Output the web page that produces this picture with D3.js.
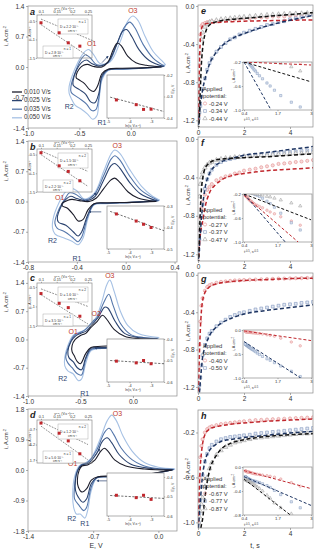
<!DOCTYPE html>
<html>
<head>
<meta charset="utf-8">
<script src="https://cdn.jsdelivr.net/npm/d3@7"></script>
<style>
body { margin: 0; background: #fff; }
svg { display: block; font-family: "Liberation Sans", Arial, sans-serif; }
</style>
</head>
<body>
<div id="chart"></div>
<script>
// ---------- cyclic voltammograms (E, V ; i, A/cm2), one loop per scan rate ----------
const scanRates = ['0.010 V/s', '0.025 V/s', '0.035 V/s', '0.050 V/s'];

const cvA010 = [[0.30,0.0],[0.1,-0.02],[-0.1,-0.03],[-0.22,-0.05],[-0.28,-0.15],[-0.32,-0.42],[-0.36,-0.56],[-0.4,-0.52],[-0.45,-0.38],[-0.5,-0.3],[-0.53,-0.25],[-0.53,-0.18],[-0.5,-0.04],[-0.46,0.04],[-0.42,0.06],[-0.36,0.01],[-0.28,0.0],[-0.22,0.12],[-0.17,0.4],[-0.13,0.55],[-0.09,0.48],[-0.03,0.25],[0.05,0.1],[0.15,0.04],[0.30,0.0]];
const cvA025 = [[0.32,0.01],[0.1,-0.03],[-0.1,-0.04],[-0.22,-0.06],[-0.28,-0.2],[-0.31,-0.6],[-0.35,-0.82],[-0.39,-0.8],[-0.44,-0.62],[-0.5,-0.52],[-0.56,-0.42],[-0.56,-0.3],[-0.53,-0.08],[-0.48,0.1],[-0.43,0.16],[-0.38,0.08],[-0.31,0.02],[-0.22,0.12],[-0.14,0.5],[-0.08,0.82],[-0.04,0.86],[0.01,0.7],[0.08,0.4],[0.18,0.15],[0.32,0.01]];
const cvA035 = [[0.33,0.02],[0.1,-0.03],[-0.1,-0.05],[-0.22,-0.07],[-0.28,-0.25],[-0.31,-0.7],[-0.34,-0.98],[-0.38,-1.0],[-0.43,-0.85],[-0.5,-0.72],[-0.58,-0.58],[-0.58,-0.42],[-0.54,-0.12],[-0.49,0.15],[-0.44,0.28],[-0.39,0.2],[-0.33,0.05],[-0.22,0.1],[-0.13,0.55],[-0.06,0.92],[-0.01,1.03],[0.04,0.9],[0.12,0.52],[0.22,0.2],[0.33,0.02]];
const cvA050 = [[0.34,0.05],[0.1,-0.03],[-0.1,-0.05],[-0.22,-0.08],[-0.28,-0.3],[-0.31,-0.8],[-0.33,-1.12],[-0.37,-1.2],[-0.42,-1.08],[-0.48,-0.97],[-0.54,-0.88],[-0.58,-0.72],[-0.6,-0.6],[-0.6,-0.45],[-0.57,-0.2],[-0.52,0.08],[-0.46,0.32],[-0.41,0.4],[-0.36,0.28],[-0.3,0.08],[-0.2,0.12],[-0.1,0.6],[-0.03,1.05],[0.02,1.17],[0.07,1.07],[0.14,0.7],[0.22,0.35],[0.3,0.15],[0.34,0.05]];

const cvB010 = [[0.25,0.0],[0.05,-0.02],[-0.15,-0.03],[-0.26,-0.05],[-0.31,-0.2],[-0.35,-0.42],[-0.39,-0.45],[-0.43,-0.3],[-0.48,-0.15],[-0.52,-0.1],[-0.52,-0.04],[-0.48,0.02],[-0.44,0.05],[-0.38,0.02],[-0.3,0.0],[-0.24,0.08],[-0.18,0.3],[-0.12,0.5],[-0.09,0.54],[-0.05,0.45],[0.02,0.22],[0.1,0.08],[0.25,0.0]];
const cvB025 = [[0.26,0.01],[0.05,-0.02],[-0.15,-0.04],[-0.26,-0.06],[-0.31,-0.3],[-0.36,-0.7],[-0.39,-0.8],[-0.43,-0.7],[-0.49,-0.55],[-0.55,-0.48],[-0.56,-0.38],[-0.53,-0.12],[-0.49,0.05],[-0.45,0.12],[-0.4,0.07],[-0.32,0.02],[-0.25,0.12],[-0.18,0.5],[-0.12,0.83],[-0.09,0.88],[-0.05,0.78],[0.03,0.45],[0.12,0.18],[0.26,0.01]];
const cvB035 = [[0.27,0.02],[0.05,-0.02],[-0.15,-0.04],[-0.26,-0.07],[-0.31,-0.35],[-0.36,-0.82],[-0.39,-0.93],[-0.44,-0.82],[-0.5,-0.7],[-0.56,-0.62],[-0.58,-0.5],[-0.55,-0.2],[-0.5,0.05],[-0.46,0.2],[-0.41,0.17],[-0.34,0.04],[-0.26,0.15],[-0.18,0.6],[-0.12,0.98],[-0.09,1.06],[-0.05,0.97],[0.03,0.6],[0.13,0.25],[0.27,0.02]];
const cvB050 = [[0.28,0.03],[0.05,-0.02],[-0.15,-0.05],[-0.26,-0.08],[-0.31,-0.4],[-0.35,-0.85],[-0.39,-1.0],[-0.44,-0.92],[-0.5,-0.85],[-0.55,-0.8],[-0.58,-0.75],[-0.6,-0.6],[-0.59,-0.35],[-0.55,-0.05],[-0.5,0.2],[-0.45,0.31],[-0.4,0.25],[-0.34,0.06],[-0.26,0.18],[-0.18,0.7],[-0.12,1.1],[-0.09,1.19],[-0.05,1.12],[0.03,0.75],[0.13,0.35],[0.22,0.12],[0.28,0.03]];

const cvC010 = [[0.22,0.0],[0.1,-0.12],[-0.1,-0.15],[-0.3,-0.17],[-0.4,-0.2],[-0.45,-0.35],[-0.5,-0.6],[-0.53,-0.55],[-0.56,-0.4],[-0.58,-0.3],[-0.58,-0.15],[-0.55,0.0],[-0.5,0.1],[-0.45,0.15],[-0.4,0.3],[-0.34,0.45],[-0.29,0.6],[-0.25,0.5],[-0.18,0.25],[-0.08,0.08],[0.05,0.02],[0.22,0.0]];
const cvC025 = [[0.23,0.02],[0.1,-0.15],[-0.1,-0.18],[-0.3,-0.2],[-0.4,-0.22],[-0.45,-0.45],[-0.49,-0.75],[-0.53,-0.7],[-0.57,-0.55],[-0.61,-0.45],[-0.62,-0.3],[-0.59,-0.05],[-0.55,0.08],[-0.5,0.15],[-0.44,0.22],[-0.38,0.4],[-0.33,0.55],[-0.27,0.8],[-0.24,0.78],[-0.17,0.45],[-0.08,0.15],[0.05,0.05],[0.23,0.02]];
const cvC035 = [[0.24,0.03],[0.1,-0.17],[-0.1,-0.2],[-0.3,-0.22],[-0.4,-0.25],[-0.45,-0.5],[-0.49,-0.88],[-0.53,-0.85],[-0.58,-0.7],[-0.62,-0.58],[-0.64,-0.45],[-0.61,-0.15],[-0.56,0.1],[-0.52,0.15],[-0.45,0.25],[-0.38,0.45],[-0.34,0.55],[-0.28,0.9],[-0.23,1.12],[-0.19,0.85],[-0.12,0.4],[-0.02,0.12],[0.1,0.05],[0.24,0.03]];
const cvC050 = [[0.25,0.05],[0.1,-0.18],[-0.1,-0.2],[-0.3,-0.22],[-0.4,-0.28],[-0.45,-0.6],[-0.49,-0.98],[-0.52,-1.02],[-0.57,-0.85],[-0.62,-0.78],[-0.65,-0.65],[-0.65,-0.45],[-0.62,-0.15],[-0.57,0.1],[-0.53,0.16],[-0.47,0.22],[-0.4,0.4],[-0.35,0.55],[-0.3,0.9],[-0.25,1.35],[-0.22,1.47],[-0.18,1.2],[-0.12,0.7],[-0.05,0.35],[0.05,0.15],[0.25,0.05]];

const cvD010 = [[0.15,0.0],[-0.2,-0.15],[-0.5,-0.18],[-0.65,-0.2],[-0.72,-0.3],[-0.77,-0.55],[-0.82,-0.65],[-0.86,-0.5],[-0.87,-0.3],[-0.85,0.0],[-0.82,0.12],[-0.76,0.15],[-0.68,0.3],[-0.62,0.55],[-0.58,0.64],[-0.54,0.55],[-0.47,0.3],[-0.35,0.12],[-0.15,0.03],[0.15,0.0]];
const cvD025 = [[0.16,0.01],[-0.2,-0.17],[-0.5,-0.2],[-0.66,-0.22],[-0.72,-0.4],[-0.77,-0.85],[-0.81,-0.95],[-0.86,-0.8],[-0.89,-0.6],[-0.89,-0.3],[-0.86,0.02],[-0.82,0.15],[-0.75,0.2],[-0.66,0.5],[-0.6,0.85],[-0.55,0.95],[-0.5,0.8],[-0.42,0.45],[-0.3,0.18],[-0.1,0.05],[0.16,0.01]];
const cvD035 = [[0.17,0.02],[-0.2,-0.18],[-0.5,-0.2],[-0.66,-0.23],[-0.72,-0.5],[-0.77,-1.1],[-0.8,-1.2],[-0.85,-1.05],[-0.9,-0.85],[-0.9,-0.5],[-0.88,-0.1],[-0.83,0.15],[-0.76,0.22],[-0.66,0.6],[-0.58,1.1],[-0.53,1.23],[-0.48,1.05],[-0.4,0.65],[-0.28,0.3],[-0.1,0.08],[0.17,0.02]];
const cvD050 = [[0.18,0.03],[-0.2,-0.19],[-0.5,-0.21],[-0.66,-0.24],[-0.72,-0.6],[-0.76,-1.2],[-0.79,-1.42],[-0.84,-1.3],[-0.88,-1.3],[-0.91,-1.1],[-0.92,-0.7],[-0.9,-0.2],[-0.85,0.12],[-0.79,0.2],[-0.72,0.35],[-0.62,0.95],[-0.55,1.45],[-0.5,1.62],[-0.45,1.45],[-0.38,1.0],[-0.28,0.55],[-0.15,0.22],[0.0,0.08],[0.18,0.03]];

// peak current vs sqrt(scan rate) insets
const sqrtV = [0.1, 0.158, 0.187, 0.224];
const ipA = [-0.55, -0.82, -1.09, -1.18];
const ipB = [-0.45, -0.8, -0.95, -1.2];
const ipC = [-0.67, -0.92, -1.03, -1.25];
const ipD = [-0.5, -0.83, -1.08, -1.5];
const ipFitA = [[[0.1,-0.45],[0.27,-1.05]], [[0.1,-0.6],[0.25,-1.45]]];
const ipFitB = [[[0.1,-0.4],[0.25,-0.95]], [[0.1,-0.5],[0.25,-1.35]]];
const ipFitC = [[[0.1,-0.55],[0.25,-1.0]], [[0.1,-0.7],[0.25,-1.45]]];
const ipFitD = [[[0.1,-0.45],[0.25,-1.2]], [[0.1,-0.6],[0.25,-1.7]]];
const dA = [['n = 1', 'D = 2.2·10⁻⁵'], ['n = 1', 'D = 2.8·10⁻⁵']];
const dB = [['n = 2', 'D = 1.5·10⁻⁵'], ['n = 2', 'D = 2.2·10⁻⁵']];
const dC = [['n = 2', 'D = 1.6·10⁻⁵'], ['n = 1', 'D = 3.5·10⁻⁵']];
const dD = [['n = 2', 'D = 1.2·10⁻⁵'], ['n = 1', 'D = 5.6·10⁻⁵']];

// peak potential vs ln(scan rate) insets
const lnV = [-4.61, -3.69, -3.35, -3.0];
const epA = [-0.316, -0.338, -0.36, -0.359];
const epB = [-0.337, -0.37, -0.385, -0.40];
const epC = [-0.503, -0.511, -0.50, -0.515];
const epD = [-0.494, -0.506, -0.494, -0.515];
const epFitA = [[-4.9,-0.303],[-2.4,-0.37]];
const epFitB = [[-4.9,-0.325],[-2.4,-0.415]];
const epFitC = [[-4.9,-0.5],[-2.4,-0.515]];
const epFitD = [[-4.9,-0.495],[-2.4,-0.51]];

// ---------- chronoamperometry (t, s ; i, A/cm2) ----------
const tMarks = [0.03,0.06,0.1,0.15,0.2,0.3,0.4,0.5,0.6,0.8,1.0,1.2,1.4,1.6,1.8,2.0,2.25,2.5,2.75,3.0,3.25,3.5,3.75,4.0,4.25,4.5,4.75,5.0];
const tFit = [0.02,0.05,0.1,0.15,0.2,0.3,0.5,0.75,1,1.5,2,3,4,5];

const ePot = ['-0.24 V', '-0.34 V', '-0.44 V'];
const eRed = [-1.15,-0.62,-0.3,-0.21,-0.19,-0.18,-0.17,-0.17,-0.16,-0.16,-0.15,-0.15,-0.14,-0.14,-0.13,-0.13,-0.13,-0.12,-0.12,-0.12,-0.11,-0.11,-0.11,-0.10,-0.10,-0.10,-0.10,-0.09];
const eBlue = [-1.18,-1.12,-1.05,-0.95,-0.87,-0.76,-0.67,-0.6,-0.55,-0.48,-0.43,-0.39,-0.35,-0.33,-0.3,-0.28,-0.26,-0.24,-0.22,-0.2,-0.19,-0.17,-0.16,-0.14,-0.13,-0.12,-0.1,-0.09];
const eGrey = [-1.1,-0.75,-0.5,-0.35,-0.28,-0.22,-0.19,-0.17,-0.16,-0.15,-0.14,-0.135,-0.13,-0.125,-0.12,-0.115,-0.11,-0.105,-0.1,-0.095,-0.09,-0.088,-0.085,-0.082,-0.08,-0.078,-0.075,-0.07];
const eRedFit = [-1.2,-0.75,-0.35,-0.24,-0.21,-0.19,-0.18,-0.175,-0.17,-0.165,-0.16,-0.155,-0.15,-0.146];
const eBlueFit = [-1.25,-1.15,-1.05,-0.96,-0.88,-0.77,-0.61,-0.5,-0.43,-0.34,-0.29,-0.21,-0.15,-0.1];
const eBlackFit = [-1.3,-1.2,-0.88,-0.6,-0.45,-0.3,-0.2,-0.17,-0.155,-0.14,-0.13,-0.11,-0.09,-0.07];
const eInsetFit = [[[0.4,-0.2],[3,-0.25]], [[0.4,-0.2],[1.45,-1.0]], [[0.4,-0.2],[3,-0.53]]];

const fPot = ['-0.27 V', '-0.37 V', '-0.47 V'];
const fRed = [-1.1,-0.95,-0.82,-0.72,-0.65,-0.58,-0.53,-0.5,-0.47,-0.43,-0.41,-0.39,-0.38,-0.36,-0.35,-0.33,-0.32,-0.31,-0.295,-0.285,-0.275,-0.26,-0.255,-0.248,-0.24,-0.235,-0.228,-0.22];
const fBlue = [-1.15,-1.05,-0.95,-0.8,-0.68,-0.52,-0.42,-0.36,-0.32,-0.27,-0.24,-0.22,-0.21,-0.2,-0.19,-0.18,-0.17,-0.165,-0.16,-0.155,-0.15,-0.145,-0.14,-0.135,-0.13,-0.125,-0.12,-0.115];
const fGrey = [-0.9,-0.6,-0.47,-0.4,-0.35,-0.3,-0.27,-0.25,-0.24,-0.22,-0.21,-0.2,-0.2,-0.19,-0.19,-0.18,-0.18,-0.175,-0.17,-0.17,-0.165,-0.16,-0.16,-0.155,-0.15,-0.15,-0.145,-0.14];
const fRedFit = [-1.3,-1.15,-1.0,-0.92,-0.86,-0.72,-0.56,-0.48,-0.43,-0.38,-0.36,-0.33,-0.315,-0.3];
const fBlueFit = [-1.25,-1.15,-1.0,-0.82,-0.7,-0.52,-0.36,-0.28,-0.24,-0.2,-0.17,-0.14,-0.11,-0.08];
const fBlackFit = [-1.3,-1.1,-0.75,-0.52,-0.42,-0.31,-0.25,-0.22,-0.21,-0.2,-0.195,-0.185,-0.17,-0.155];
const fInsetFit = [[[0.4,-0.22],[2.5,-1.0]], [[0.4,-0.2],[2.0,-1.0]], [[0.4,-0.2],[3,-0.63]]];

const gPot = ['-0.40 V', '-0.50 V'];
const gRed = [-1.0,-0.75,-0.5,-0.33,-0.25,-0.17,-0.13,-0.11,-0.1,-0.085,-0.075,-0.07,-0.065,-0.06,-0.058,-0.055,-0.052,-0.05,-0.048,-0.045,-0.043,-0.04,-0.04,-0.038,-0.036,-0.035,-0.033,-0.03];
const gBlue = [-1.22,-1.18,-1.1,-0.97,-0.86,-0.75,-0.68,-0.63,-0.6,-0.55,-0.51,-0.48,-0.45,-0.43,-0.41,-0.4,-0.385,-0.37,-0.36,-0.35,-0.34,-0.33,-0.32,-0.315,-0.31,-0.3,-0.295,-0.29];
const gRedFit = [-1.25,-0.95,-0.6,-0.38,-0.28,-0.19,-0.13,-0.1,-0.085,-0.07,-0.06,-0.05,-0.04,-0.035];
const gBlueFit = [-1.4,-1.3,-1.15,-1.0,-0.88,-0.78,-0.65,-0.57,-0.52,-0.46,-0.42,-0.38,-0.35,-0.32];
const gInsetFit = [[[0.4,-0.02],[3,-0.22]], [[0.4,-0.24],[2.6,-1.0]]];

const hPot = ['-0.67 V', '-0.77 V', '-0.87 V'];
const hRed = [-0.8,-0.6,-0.42,-0.32,-0.26,-0.2,-0.17,-0.155,-0.145,-0.135,-0.125,-0.12,-0.115,-0.11,-0.105,-0.1,-0.095,-0.09,-0.088,-0.085,-0.082,-0.08,-0.078,-0.075,-0.072,-0.07,-0.068,-0.065];
const hBlue = [-1.0,-0.92,-0.8,-0.68,-0.58,-0.46,-0.39,-0.34,-0.31,-0.28,-0.26,-0.25,-0.24,-0.235,-0.23,-0.225,-0.22,-0.21,-0.205,-0.2,-0.195,-0.19,-0.185,-0.18,-0.175,-0.17,-0.165,-0.16];
const hGrey = [-1.0,-0.95,-0.9,-0.84,-0.78,-0.68,-0.6,-0.52,-0.47,-0.4,-0.36,-0.33,-0.31,-0.29,-0.28,-0.27,-0.26,-0.25,-0.245,-0.24,-0.235,-0.23,-0.225,-0.22,-0.215,-0.21,-0.21,-0.205];
const hRedFit = [-1.0,-0.75,-0.5,-0.38,-0.3,-0.22,-0.17,-0.15,-0.14,-0.125,-0.115,-0.1,-0.09,-0.08];
const hBlueFit = [-1.05,-0.95,-0.82,-0.68,-0.58,-0.46,-0.36,-0.31,-0.28,-0.26,-0.245,-0.225,-0.205,-0.19];
const hBlackFit = [-1.1,-1.1,-1.08,-1.02,-0.97,-0.78,-0.54,-0.42,-0.35,-0.29,-0.265,-0.235,-0.22,-0.21];
const hInsetFit = [[[0.4,-0.06],[3,-0.36]], [[0.4,-0.16],[3,-0.64]], [[0.4,-0.2],[2.2,-0.8]]];

// ---------- drawing ----------
const W = 319, H = 550;
const cvColors = ['#1c1d2b', '#2c4470', '#5577ab', '#a6c1e4'];
const redText = '#c0392b', navyText = '#2c4470';
const frameCol = '#8c8c8c';
const styles = [
  { sym: d3.symbolCircle, mk: '#e28f8f', fill: '#f7dada', ln: '#c0272d' },
  { sym: d3.symbolSquare, mk: '#7f96bd', fill: '#e3e9f3', ln: '#1d3461' },
  { sym: d3.symbolTriangle, mk: '#9c9c9c', fill: '#eeeeee', ln: '#111111' }
];

const svg = d3.select('#chart').append('svg').attr('width', W).attr('height', H);

function styleAxis(g, fs) {
  g.select('.domain').remove();
  g.selectAll('line').attr('stroke', '#777').attr('stroke-width', 0.6);
  g.selectAll('text').attr('font-size', fs).attr('fill', '#333');
  return g;
}

function rich(sel, parts) {
  parts.forEach(([t, sup]) => {
    sel.append('tspan')
      .attr('baseline-shift', sup ? 'super' : null)
      .attr('font-size', sup ? '70%' : null)
      .text(t);
  });
  return sel;
}

function box(g, x, y, w, h, fill) {
  return g.append('rect').attr('x', x).attr('y', y).attr('width', w).attr('height', h)
    .attr('fill', fill || 'none').attr('stroke', frameCol).attr('stroke-width', 0.7);
}

function yTitle(g, x, y, fs) {
  rich(g.append('text').attr('transform', `translate(${x},${y}) rotate(-90)`)
    .attr('text-anchor', 'middle').attr('font-size', fs).attr('fill', '#333'),
    [['i, A.cm', false], ['-2', true]]);
}

function letter(g, x, y, t) {
  g.append('text').attr('x', x).attr('y', y).attr('font-size', 9).attr('font-weight', 'bold')
    .attr('font-style', 'italic').attr('fill', '#222').text(t);
}

svg.append('defs').append('marker').attr('id', 'arr').attr('viewBox', '0 0 6 6')
  .attr('refX', 5).attr('refY', 3).attr('markerWidth', 4).attr('markerHeight', 4).attr('orient', 'auto')
  .append('path').attr('d', 'M0,0L6,3L0,6Z').attr('fill', '#2c4470');

// ----- CV panels (left column) -----
const cvPanels = [
  { id: 'a', top: 6, bottom: 128, xDom: [-1.0, 0.45], yDom: [-1.4, 1.4], xTicks: [-1.0, -0.5, 0.0], yTicks: [1.4, 0.7, 0.0, -0.7, -1.4],
    curves: [cvA010, cvA025, cvA035, cvA050], ip: ipA, ipFit: ipFitA, D: dA, ep: epA, epFit: epFitA,
    in1: 9, ipDom: [-1.5, -0.34], ipTicks: [-0.5, -1, -1.5], in2: 69, epDom: [-0.4, -0.2], epTicks: [-0.2, -0.3, -0.4],
    peaks: [['O1', -0.38, 0.52, 'o'], ['O3', 0.02, 1.28, 'o'], ['R1', -0.28, -1.3, 'r'], ['R2', -0.6, -0.92, 'r']],
    arrows: [[[-0.28, 0.1], [-0.22, 0.25]]] },
  { id: 'b', top: 141, bottom: 262, xDom: [-0.8, 0.42], yDom: [-1.4, 1.4], xTicks: [-0.8, -0.4, 0.0, 0.4], yTicks: [1.4, 0.7, 0.0, -0.7, -1.4],
    curves: [cvB010, cvB025, cvB035, cvB050], ip: ipB, ipFit: ipFitB, D: dB, ep: epB, epFit: epFitB,
    in1: 8, ipDom: [-1.5, -0.35], ipTicks: [-0.5, -1, -1.5], in2: 65, epDom: [-0.5, -0.3], epTicks: [-0.3, -0.4, -0.5],
    peaks: [['O1', -0.54, 0.08, 'o'], ['O3', -0.07, 1.28, 'o'], ['R1', -0.4, -1.33, 'r'], ['R2', -0.6, -0.92, 'r']],
    arrows: [[[-0.29, 0.08], [-0.24, 0.2]], [[-0.2, -0.24], [-0.3, -0.24]]] },
  { id: 'c', top: 272, bottom: 396, xDom: [-1.0, 0.42], yDom: [-1.4, 1.67], xTicks: [-1.0, -0.5, 0.0], yTicks: [1.4, 0.7, 0.0, -0.7, -1.4],
    curves: [cvC010, cvC025, cvC035, cvC050], ip: ipC, ipFit: ipFitC, D: dC, ep: epC, epFit: epFitC,
    in1: 11, ipDom: [-1.5, -0.4], ipTicks: [-0.5, -1, -1.5], in2: 67, epDom: [-0.6, -0.4], epTicks: [-0.4, -0.5, -0.6],
    peaks: [['O1', -0.57, 0.18, 'o'], ['O2', -0.35, 0.62, 'o'], ['O3', -0.22, 1.56, 'o'], ['R1', -0.46, -1.36, 'r'], ['R2', -0.67, -0.98, 'r']],
    arrows: [[[-0.25, -0.22], [-0.36, -0.22]]] },
  { id: 'd', top: 409, bottom: 531, xDom: [-1.4, 0.2], yDom: [-1.8, 1.8], xTicks: [-1.4, -0.7, 0.0], yTicks: [1.8, 0.9, 0.0, -0.9, -1.8],
    curves: [cvD010, cvD025, cvD035, cvD050], ip: ipD, ipFit: ipFitD, D: dD, ep: epD, epFit: epFitD,
    in1: 11, ipDom: [-1.8, -0.4], ipTicks: [-0.7, -1.2, -1.7], in2: 64, epDom: [-0.6, -0.38], epTicks: [-0.4, -0.5, -0.6],
    peaks: [['O1', -0.92, 0.16, 'o'], ['O3', -0.44, 1.66, 'o'], ['R1', -0.79, -1.6, 'r'], ['R2', -0.93, -1.45, 'r']],
    arrows: [[[-0.68, 0.42], [-0.63, 0.62]], [[-0.55, -0.32], [-0.66, -0.32]]] }
];

cvPanels.forEach(p => {
  const x = d3.scaleLinear().domain(p.xDom).range([28, 177]);
  const y = d3.scaleLinear().domain(p.yDom).range([p.bottom, p.top]);
  const g = svg.append('g');
  const clipId = 'clip-' + p.id;
  svg.append('clipPath').attr('id', clipId).append('rect')
    .attr('x', 28).attr('y', p.top).attr('width', 149).attr('height', p.bottom - p.top);

  const line = d3.line().x(d => x(d[0])).y(d => y(d[1])).curve(d3.curveCatmullRom.alpha(0.5));
  const cg = g.append('g').attr('clip-path', `url(#${clipId})`);
  [3, 2, 1, 0].forEach(k => {
    cg.append('path').datum(p.curves[k]).attr('d', line).attr('fill', 'none')
      .attr('stroke', cvColors[k]).attr('stroke-width', 1.1).attr('stroke-linejoin', 'round');
  });

  p.arrows.forEach(a => {
    g.append('line').attr('x1', x(a[0][0])).attr('y1', y(a[0][1])).attr('x2', x(a[1][0])).attr('y2', y(a[1][1]))
      .attr('stroke', '#2c4470').attr('stroke-width', 0.7).attr('marker-end', 'url(#arr)');
  });

  box(g, 28, p.top, 149, p.bottom - p.top);
  styleAxis(g.append('g').attr('transform', 'translate(28,0)')
    .call(d3.axisLeft(y).tickValues(p.yTicks).tickFormat(d => d.toFixed(1)).tickSize(2).tickPadding(1.5)), 6.5);
  styleAxis(g.append('g').attr('transform', `translate(0,${p.bottom})`)
    .call(d3.axisBottom(x).tickValues(p.xTicks).tickFormat(d => d.toFixed(1)).tickSize(2).tickPadding(1.5)), 6.5);
  yTitle(g, 8, p.top + 30, 5.5);
  letter(g, 30, p.top + 9, p.id);

  p.peaks.forEach(([t, e, i, kind]) => {
    g.append('text').attr('x', x(e)).attr('y', y(i)).attr('text-anchor', 'middle').attr('dominant-baseline', 'middle')
      .attr('font-size', 7).attr('fill', kind === 'o' ? redText : navyText).text(t);
  });

  // inset: peak current vs v^0.5
  const i1t = p.top + p.in1, i1h = 43;
  const ix = d3.scaleLinear().domain([0.1, 0.25]).range([41, 88]);
  const iy = d3.scaleLinear().domain(p.ipDom).range([i1t + i1h, i1t]);
  const ig = g.append('g');
  box(ig, 37, i1t, 55, i1h);
  styleAxis(ig.append('g').attr('transform', `translate(0,${i1t})`)
    .call(d3.axisTop(ix).tickValues([0.1, 0.15, 0.2, 0.25]).tickFormat(d => String(d)).tickSize(1.2).tickPadding(0.8)), 3.8);
  styleAxis(ig.append('g').attr('transform', 'translate(37,0)')
    .call(d3.axisLeft(iy).tickValues(p.ipTicks).tickFormat(d => String(d)).tickSize(1.2).tickPadding(0.8)), 3.8);
  rich(ig.append('text').attr('x', 64).attr('y', i1t - 5.5).attr('text-anchor', 'middle').attr('font-size', 3.5).attr('fill', '#333'),
    [['v', false], ['0.5', true], [', (V.s', false], ['-1', true], [')', false], ['0.5', true]]);
  rich(ig.append('text').attr('transform', `translate(30.5,${i1t + 19}) rotate(-90)`).attr('text-anchor', 'middle')
    .attr('font-size', 3.5).attr('fill', '#333'), [['i', false], ['p', false], [', A.cm', false], ['-2', true]]);
  p.ipFit.forEach(f => {
    ig.append('line').attr('x1', ix(f[0][0])).attr('y1', iy(f[0][1])).attr('x2', ix(f[1][0])).attr('y2', iy(f[1][1]))
      .attr('stroke', '#444').attr('stroke-width', 0.6).attr('stroke-dasharray', '1.8,1.2');
  });
  const tb = [[58, i1t + 4, 30, 15], [43, i1t + 31, 30, 12]];
  tb.forEach((b, k) => {
    ig.append('rect').attr('x', b[0]).attr('y', b[1]).attr('width', b[2]).attr('height', b[3])
      .attr('fill', '#fff').attr('stroke', '#999').attr('stroke-width', 0.4);
    ig.append('text').attr('x', b[0] + b[2] - 2).attr('y', b[1] + 4).attr('text-anchor', 'end')
      .attr('font-size', 3.2).attr('fill', '#333').text(p.D[k][0]);
    ig.append('text').attr('x', b[0] + 2).attr('y', b[1] + (k ? 8 : 9)).attr('font-size', 3.4).attr('fill', '#333').text(p.D[k][1]);
    ig.append('text').attr('x', b[0] + 10).attr('y', b[1] + (k ? 11.2 : 13)).attr('font-size', 3.2).attr('fill', '#333').text('cm²s⁻¹');
  });
  ig.selectAll('rect.pt').data(p.ip).join('rect').attr('class', 'pt')
    .attr('x', (d, k) => ix(sqrtV[k]) - 1.5).attr('y', d => iy(d) - 1.5).attr('width', 3).attr('height', 3)
    .attr('fill', '#c0272d');

  // inset: peak potential vs ln v
  const i2t = p.top + p.in2, i2h = 43;
  const lx = d3.scaleLinear().domain([-5, -2.4]).range([108, 164]);
  const ly = d3.scaleLinear().domain(p.epDom).range([i2t + i2h, i2t]);
  const lg = g.append('g');
  box(lg, 107, i2t, 57, i2h, '#fff');
  styleAxis(lg.append('g').attr('transform', `translate(0,${i2t + i2h})`)
    .call(d3.axisBottom(lx).tickValues([-5, -4, -3]).tickFormat(d => String(d)).tickSize(1.2).tickPadding(0.8)), 3.8);
  styleAxis(lg.append('g').attr('transform', 'translate(164,0)')
    .call(d3.axisRight(ly).tickValues(p.epTicks).tickFormat(d => String(d)).tickSize(1.2).tickPadding(0.8)), 3.8);
  rich(lg.append('text').attr('x', 133).attr('y', i2t + i2h + 9).attr('text-anchor', 'middle').attr('font-size', 3.5).attr('fill', '#333'),
    [['ln(v, V.s', false], ['-1', true], [')', false]]);
  rich(lg.append('text').attr('transform', `translate(174,${i2t + 14}) rotate(-90)`).attr('text-anchor', 'middle')
    .attr('font-size', 3.6).attr('fill', '#333'), [['E', false], ['p', false], [', V', false]]);
  lg.append('line').attr('x1', lx(p.epFit[0][0])).attr('y1', ly(p.epFit[0][1])).attr('x2', lx(p.epFit[1][0])).attr('y2', ly(p.epFit[1][1]))
    .attr('stroke', '#333').attr('stroke-width', 0.7).attr('stroke-dasharray', '2.2,1.5');
  lg.selectAll('rect.pt').data(p.ep).join('rect').attr('class', 'pt')
    .attr('x', (d, k) => lx(lnV[k]) - 1.5).attr('y', d => ly(d) - 1.5).attr('width', 3).attr('height', 3)
    .attr('fill', '#c0272d');
});

// legend of scan rates in panel a
scanRates.forEach((s, k) => {
  const yy = 92 + k * 8.6;
  svg.append('line').attr('x1', 12).attr('x2', 22).attr('y1', yy).attr('y2', yy)
    .attr('stroke', cvColors[k]).attr('stroke-width', 1.3);
  svg.append('text').attr('x', 24).attr('y', yy).attr('dominant-baseline', 'middle')
    .attr('font-size', 6.3).attr('fill', '#333').text(s);
});

svg.append('text').attr('x', 96).attr('y', 548).attr('text-anchor', 'middle').attr('font-size', 7).attr('fill', '#333').text('E, V');

// ----- chronoamperometry panels (right column) -----
const caPanels = [
  { id: 'e', top: 5, bottom: 127, yDom: [-1.27, 0.01], yTicks: [0.0, -0.4, -0.8, -1.2],
    series: [eRed, eBlue, eGrey], fits: [eRedFit, eBlueFit, eBlackFit], pots: ePot, insetFit: eInsetFit,
    insDom: [-1.0, -0.2], insTicks: [-0.2, -0.6, -1.0], leg: 86 },
  { id: 'f', top: 137, bottom: 261, yDom: [-1.27, 0.02], yTicks: [0.0, -0.4, -0.8, -1.2],
    series: [fRed, fBlue, fGrey], fits: [fRedFit, fBlueFit, fBlackFit], pots: fPot, insetFit: fInsetFit,
    insDom: [-1.0, -0.2], insTicks: [-0.2, -0.6, -1.0], leg: 75 },
  { id: 'g', top: 273, bottom: 393, yDom: [-1.265, 0.02], yTicks: [0.0, -0.4, -0.8, -1.2],
    series: [gRed, gBlue], fits: [gRedFit, gBlueFit], pots: gPot, insetFit: gInsetFit,
    insDom: [-1.0, 0.0], insTicks: [0.0, -0.5, -1.0], leg: 75 },
  { id: 'h', top: 410, bottom: 528, yDom: [-1.05, 0.0], yTicks: [-0.2, -0.6, -1.0],
    series: [hRed, hBlue, hGrey], fits: [hRedFit, hBlueFit, hBlackFit], pots: hPot, insetFit: hInsetFit,
    insDom: [-0.8, 0.0], insTicks: [0.0, -0.4, -0.8], leg: 71 }
];

caPanels.forEach(p => {
  const x = d3.scaleLinear().domain([0, 5]).range([198, 313]);
  const y = d3.scaleLinear().domain(p.yDom).range([p.bottom, p.top]);
  const g = svg.append('g');
  const clipId = 'clip-' + p.id;
  svg.append('clipPath').attr('id', clipId).append('rect')
    .attr('x', 198).attr('y', p.top).attr('width', 115).attr('height', p.bottom - p.top);
  const cg = g.append('g').attr('clip-path', `url(#${clipId})`);

  p.series.forEach((vals, k) => {
    const st = styles[k];
    cg.selectAll(null).data(vals).join('path')
      .attr('transform', (d, j) => `translate(${x(tMarks[j])},${y(d)})`)
      .attr('d', d3.symbol().type(st.sym).size(k === 2 ? 9 : 8)())
      .attr('fill', st.fill).attr('stroke', st.mk).attr('stroke-width', 0.6);
  });
  const fitLine = d3.line().x((d, j) => x(tFit[j])).y(d => y(d)).curve(d3.curveMonotoneX);
  p.fits.forEach((vals, k) => {
    cg.append('path').datum(vals).attr('d', fitLine).attr('fill', 'none')
      .attr('stroke', styles[k].ln).attr('stroke-width', 1.5).attr('stroke-dasharray', '4,2.5');
  });

  box(g, 198, p.top, 115, p.bottom - p.top);
  styleAxis(g.append('g').attr('transform', 'translate(198,0)')
    .call(d3.axisLeft(y).tickValues(p.yTicks).tickFormat(d => d.toFixed(1)).tickSize(2).tickPadding(1.5)), 6.5);
  styleAxis(g.append('g').attr('transform', `translate(0,${p.bottom})`)
    .call(d3.axisBottom(x).tickValues([0, 2, 4]).tickFormat(d3.format('d')).tickSize(2).tickPadding(1.5)), 6.5);
  yTitle(g, 190, p.top + 58, 5.5);
  letter(g, 201, p.top + 9, p.id);

  // legend
  const lg = g.append('g');
  lg.append('text').attr('x', 203).attr('y', p.top + p.leg).attr('font-size', 5.8).attr('fill', '#333').text('Applied');
  lg.append('text').attr('x', 203).attr('y', p.top + p.leg + 7).attr('font-size', 5.8).attr('fill', '#333').text('potential:');
  p.pots.forEach((t, k) => {
    const yy = p.top + p.leg + 14.5 + k * 7.5;
    lg.append('path').attr('transform', `translate(205,${yy - 2})`)
      .attr('d', d3.symbol().type(styles[k].sym).size(8)())
      .attr('fill', 'none').attr('stroke', styles[k].mk).attr('stroke-width', 0.6);
    lg.append('text').attr('x', 209).attr('y', yy).attr('font-size', 5.8).attr('fill', '#333').text(t);
  });

  // inset: i vs t^-0.5
  const it = p.top + 57, ih = 48;
  const ix = d3.scaleLinear().domain([0.4, 3]).range([244, 311]);
  const iy = d3.scaleLinear().domain(p.insDom).range([it + ih, it]);
  const ig = g.append('g');
  box(ig, 243, it, 69, ih, '#fff');
  const iclip = 'iclip-' + p.id;
  svg.append('clipPath').attr('id', iclip).append('rect').attr('x', 243).attr('y', it).attr('width', 69).attr('height', ih);
  const icg = ig.append('g').attr('clip-path', `url(#${iclip})`);
  p.series.forEach((vals, k) => {
    const st = styles[k];
    icg.selectAll(null).data(vals).join('path')
      .attr('transform', (d, j) => `translate(${ix(1 / Math.sqrt(tMarks[j]))},${iy(d)})`)
      .attr('d', d3.symbol().type(st.sym).size(5)())
      .attr('fill', st.fill).attr('stroke', st.mk).attr('stroke-width', 0.5);
  });
  p.insetFit.forEach((f, k) => {
    icg.append('line').attr('x1', ix(f[0][0])).attr('y1', iy(f[0][1])).attr('x2', ix(f[1][0])).attr('y2', iy(f[1][1]))
      .attr('stroke', styles[k].ln).attr('stroke-width', 1).attr('stroke-dasharray', '3,2');
  });
  styleAxis(ig.append('g').attr('transform', `translate(0,${it + ih})`)
    .call(d3.axisBottom(ix).tickValues([0.4, 1.7, 3]).tickFormat(d => String(d)).tickSize(1.2).tickPadding(0.8)), 4.3);
  styleAxis(ig.append('g').attr('transform', 'translate(243,0)')
    .call(d3.axisLeft(iy).tickValues(p.insTicks).tickFormat(d => d.toFixed(1)).tickSize(1.2).tickPadding(0.8)), 4.3);
  rich(ig.append('text').attr('x', 244).attr('y', it + ih + 11).attr('font-size', 3.8).attr('fill', '#333'),
    [['t', false], ['-0.5', true], [', s', false], ['-0.5', true]]);
  yTitle(ig, 234.5, it + 14, 3.8);
});

svg.append('text').attr('x', 255).attr('y', 548).attr('text-anchor', 'middle').attr('font-size', 7).attr('fill', '#333').text('t, s');
</script>
</body>
</html>
